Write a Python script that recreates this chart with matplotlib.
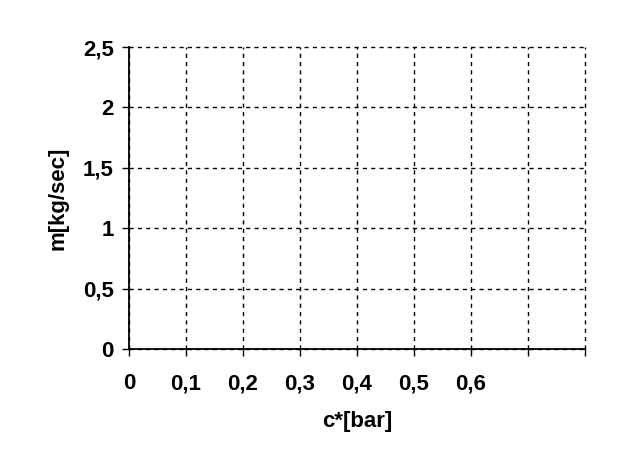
import matplotlib
matplotlib.use("Agg")
import matplotlib.pyplot as plt

x_ticks = [0, 0.1, 0.2, 0.3, 0.4, 0.5, 0.6, 0.7, 0.8]
x_labels = ["0", "0,1", "0,2", "0,3", "0,4", "0,5", "0,6", "", ""]
y_ticks = [0, 0.5, 1, 1.5, 2, 2.5]
y_labels = ["0", "0,5", "1", "1,5", "2", "2,5"]
x_title = "c*[bar]"
y_title = "m[kg/sec]"

plt.rcParams['font.family'] = ['Liberation Sans', 'DejaVu Sans']
plt.rcParams['font.weight'] = 'bold'

fs = 16
fig = plt.figure(figsize=(6.25, 4.65), dpi=100)
ax = fig.add_axes([129/625, 1-349/465, (585-129)/625, (349-47)/465])
ax.set_xlim(0, 0.8)
ax.set_ylim(0, 2.5)
ax.set_xticks(x_ticks)
ax.set_xticklabels(x_labels, fontsize=fs, fontweight='bold', va='baseline')
ax.set_yticks(y_ticks)
ax.set_yticklabels(y_labels, fontsize=fs, fontweight='bold')
ax.tick_params(axis='x', direction='out', length=5, width=1, pad=24)
ax.tick_params(axis='y', direction='out', length=5, width=1, pad=6)
ax.grid(True, color='black', linestyle=(0, (3, 3)), linewidth=1)
for gl in ax.get_xgridlines() + ax.get_ygridlines():
    gl.set_clip_on(False)
for s in ['top', 'right']:
    ax.spines[s].set_visible(False)
for s in ['left', 'bottom']:
    ax.spines[s].set_linewidth(1.3)
    ax.spines[s].set_zorder(3)
ax.set_xlabel(x_title, fontsize=fs, fontweight='bold', labelpad=12)
ax.set_ylabel(y_title, fontsize=fs, fontweight='bold', labelpad=10)
fig.savefig("out.png", dpi=100)
